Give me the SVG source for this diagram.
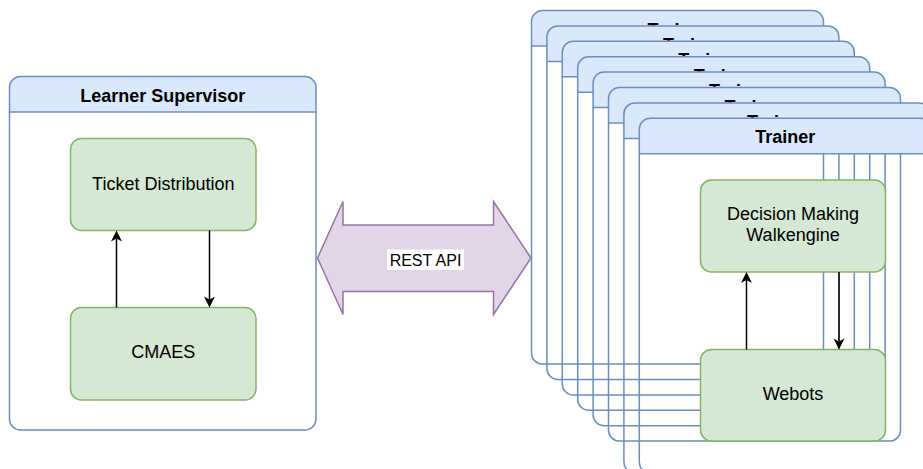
<svg xmlns="http://www.w3.org/2000/svg" xmlns:xlink="http://www.w3.org/1999/xlink" width="923" height="469" viewBox="0 0 923 469">
  <style>
    .lane-head { fill: #dae8fc; stroke: #6c8ebf; stroke-width: 1.5; }
    .lane-body { fill: none; stroke: #6c8ebf; stroke-width: 1.5; }
    .lane-title { font-family: "Liberation Sans", Arial, sans-serif; font-size: 18px; font-weight: bold; fill: #000; text-anchor: middle; }
    .box { fill: #d5e8d4; stroke: #82b366; stroke-width: 1.5; }
    .label { font-family: "Liberation Sans", Arial, sans-serif; font-size: 18px; fill: #000; text-anchor: middle; }
    .api { fill: #e1d5e7; stroke: #9673a6; stroke-width: 1.5; }
    .api-label { font-family: "Liberation Sans", Arial, sans-serif; font-size: 16px; fill: #000; text-anchor: middle; }
    .edge { fill: none; stroke: #000; stroke-width: 1.5; }
  </style>
  <defs>
    <marker id="arrow" markerUnits="userSpaceOnUse" markerWidth="12" markerHeight="12" refX="3" refY="5.5" orient="auto" overflow="visible">
      <path d="M0,0 L11,5.5 L0,11 L3,5.5 Z" fill="#000"/>
    </marker>
    <!-- standard trainer lane: 292 x 353.6, header 35.5 -->
    <g id="lane">
      <path class="lane-head" d="M0,35.5 V11 A11,11 0 0 1 11,0 H281 A11,11 0 0 1 292,11 V35.5 Z"/>
      <path class="lane-body" d="M0,35.5 V342.6 A11,11 0 0 0 11,353.6 H281 A11,11 0 0 0 292,342.6 V35.5"/>
      <text class="lane-title" x="146" y="25">Trainer</text>
    </g>
  </defs>

  <!-- Learner Supervisor lane -->
  <g id="learner-supervisor">
    <path class="lane-head" d="M9.5,112 V87.5 A11,11 0 0 1 20.5,76.5 H305 A11,11 0 0 1 316,87.5 V112 Z"/>
    <path class="lane-body" d="M9.5,112 V419 A11,11 0 0 0 20.5,430 H305 A11,11 0 0 0 316,419 V112"/>
    <text class="lane-title" x="162.75" y="102">Learner Supervisor</text>
  </g>

  <g id="ticket-distribution">
    <rect class="box" x="70.5" y="138.5" width="185.5" height="92" rx="11"/>
    <text class="label" x="163.25" y="189.5">Ticket Distribution</text>
  </g>

  <g id="cmaes">
    <rect class="box" x="70.5" y="307.5" width="185.5" height="92.5" rx="11"/>
    <text class="label" x="163.25" y="358">CMAES</text>
  </g>

  <!-- REST API double arrow -->
  <g id="rest-api">
    <polygon class="api" points="317.5,258 343,201.5 343,225 493.5,225 493.5,201.5 531,258 493.5,314.5 493.5,291.5 343,291.5 343,314.5"/>
    <rect x="387" y="249.5" width="77" height="20.5" fill="#fff"/>
    <text class="api-label" x="425.5" y="266">REST API</text>
  </g>

  <!-- stacked trainer lanes, back to front -->
  <use id="trainer-0" xlink:href="#lane" href="#lane" x="531.5" y="10.5"/>
  <use id="trainer-1" xlink:href="#lane" href="#lane" x="546.9" y="25.9"/>
  <use id="trainer-2" xlink:href="#lane" href="#lane" x="562.3" y="41.3"/>
  <use id="trainer-3" xlink:href="#lane" href="#lane" x="577.7" y="56.7"/>
  <use id="trainer-4" xlink:href="#lane" href="#lane" x="593.1" y="72.1"/>
  <use id="trainer-5" xlink:href="#lane" href="#lane" x="608.5" y="87.5"/>

  <g id="trainer-6">
    <path class="lane-head" d="M623.9,138.4 V113.9 A11,11 0 0 1 634.9,102.9 H919 A11,11 0 0 1 930,113.9 V138.4 Z"/>
    <path class="lane-body" d="M623.9,138.4 V462 A11,11 0 0 0 634.9,473 H919 A11,11 0 0 0 930,462 V138.4"/>
    <text class="lane-title" x="776.9" y="127.9">Trainer</text>
  </g>

  <g id="trainer-7">
    <path class="lane-head" d="M639.3,153.8 V129.3 A11,11 0 0 1 650.3,118.3 H920.3 A11,11 0 0 1 931.3,129.3 V153.8 Z"/>
    <path class="lane-body" d="M639.3,153.8 V462 A11,11 0 0 0 650.3,473 H920.3 A11,11 0 0 0 931.3,462 V153.8"/>
    <text class="lane-title" x="785.3" y="143.3">Trainer</text>
  </g>

  <g id="decision-making">
    <rect class="box" x="700.5" y="180" width="185" height="92" rx="11"/>
    <text class="label" x="793" y="219.5">Decision Making</text>
    <text class="label" x="793" y="241">Walkengine</text>
  </g>

  <g id="webots">
    <rect class="box" x="700.5" y="349.5" width="185" height="91.5" rx="11"/>
    <text class="label" x="793" y="399.5">Webots</text>
  </g>

  <!-- connectors -->
  <g id="connectors">
    <line class="edge" x1="116.5" y1="307.5" x2="116.5" y2="238.5" marker-end="url(#arrow)"/>
    <line class="edge" x1="209.5" y1="230.5" x2="209.5" y2="299.5" marker-end="url(#arrow)"/>
    <line class="edge" x1="746.5" y1="349.5" x2="746.5" y2="280" marker-end="url(#arrow)"/>
    <line class="edge" x1="839" y1="272" x2="839" y2="341.5" marker-end="url(#arrow)"/>
  </g>
</svg>
